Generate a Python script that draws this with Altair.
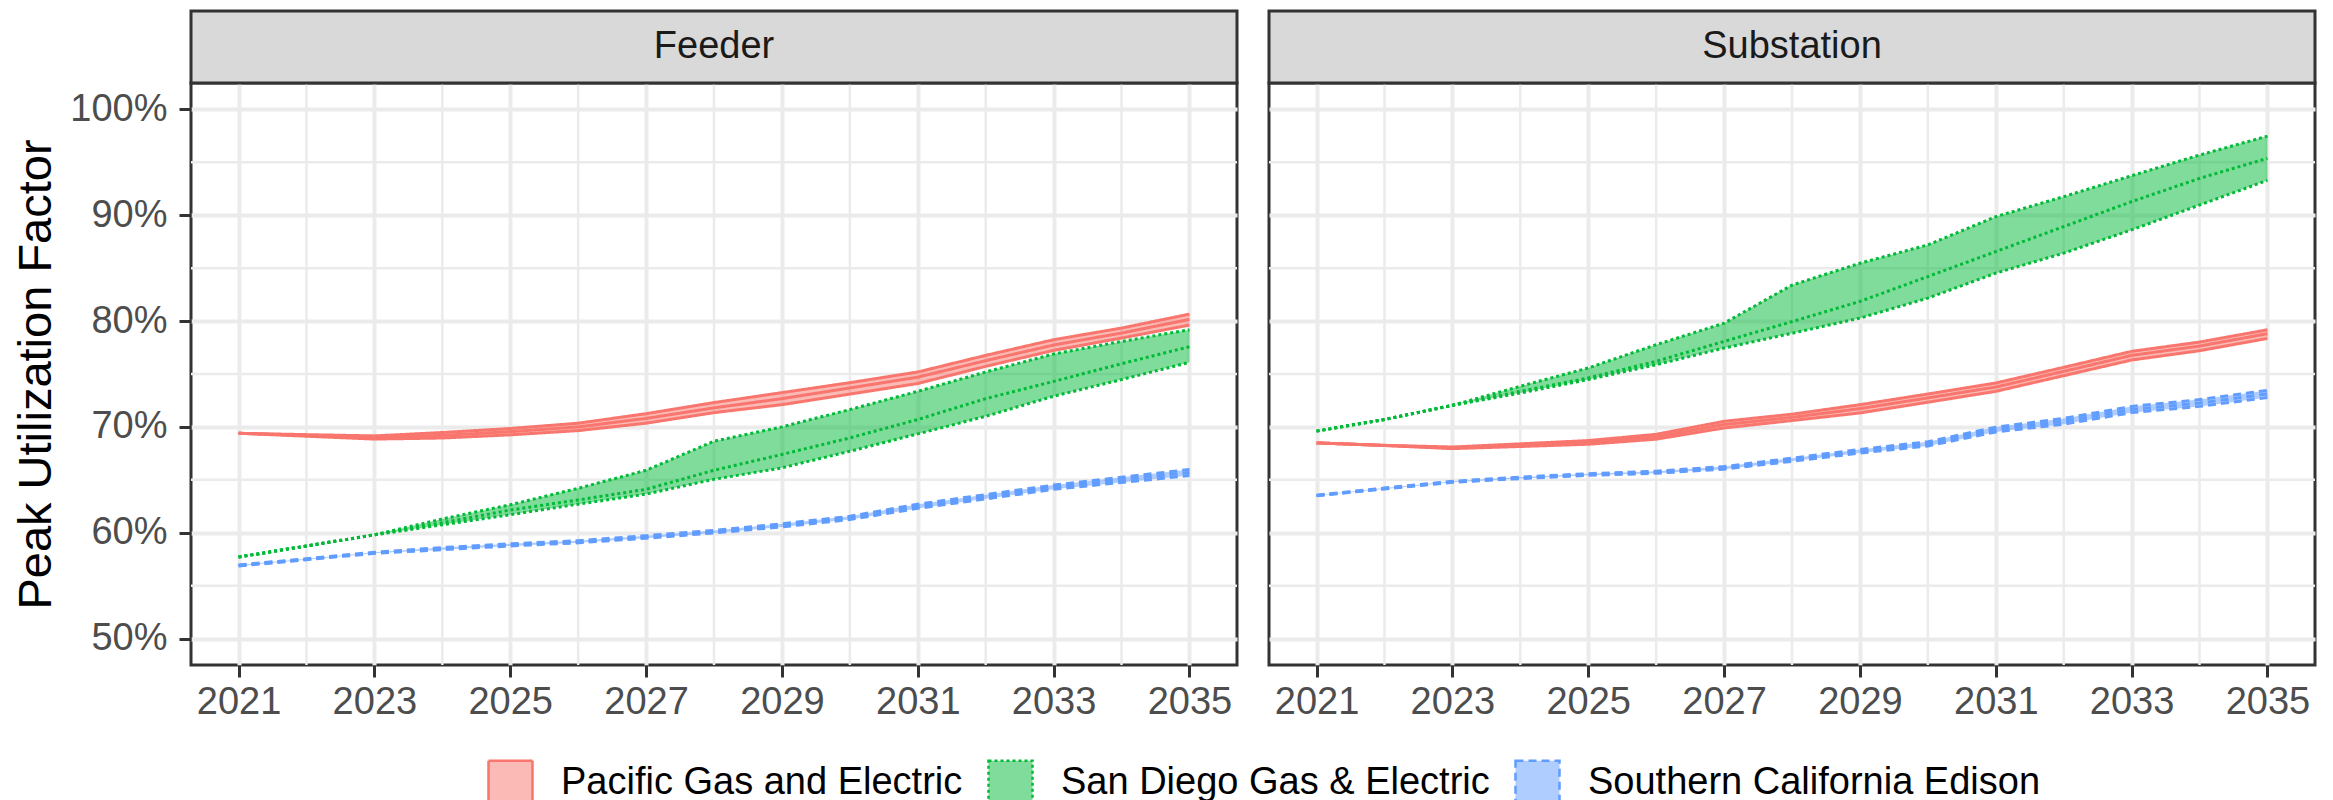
import altair as alt
import pandas as pd

# ---------------- data ----------------
years = [2021, 2022, 2023, 2024, 2025, 2026, 2027, 2028, 2029, 2030, 2031, 2032, 2033, 2034, 2035]
utilities = ["Pacific Gas and Electric", "San Diego Gas & Electric", "Southern California Edison"]
facets = ["Feeder", "Substation"]

major_years = [2021, 2023, 2025, 2027, 2029, 2031, 2033, 2035]
minor_years = [2022, 2024, 2026, 2028, 2030, 2032, 2034]
major_pct = [50, 60, 70, 80, 90, 100]
minor_pct = [55, 65, 75, 85, 95]

# Feeder
feeder_pge_hi = [69.4, 69.27, 69.15, 69.47, 69.85, 70.35, 71.25, 72.3, 73.24, 74.18, 75.19, 76.76, 78.24, 79.34, 80.66]
feeder_pge_mid = [69.4, 69.2, 69.0, 69.2, 69.55, 70.0, 70.8, 71.8, 72.67, 73.68, 74.7, 76.26, 77.74, 78.87, 80.16]
feeder_pge_lo = [69.4, 69.12, 68.85, 68.95, 69.25, 69.65, 70.35, 71.35, 72.1, 73.1, 74.1, 75.72, 77.23, 78.4, 79.62]

feeder_sdge_hi = [57.7, 58.75, 59.8, 61.3, 62.64, 64.2, 65.9, 68.65, 70.0, 71.64, 73.36, 75.19, 76.89, 78.08, 79.18]
feeder_sdge_mid = [57.7, 58.75, 59.8, 60.95, 62.14, 63.1, 64.1, 65.9, 67.4, 68.96, 70.7, 72.67, 74.3, 75.97, 77.58]
feeder_sdge_lo = [57.7, 58.75, 59.8, 60.75, 61.7, 62.7, 63.65, 65.05, 66.13, 67.7, 69.34, 71.0, 72.9, 74.47, 76.1]

feeder_sce_hi = [56.95, 57.55, 58.15, 58.6, 58.95, 59.25, 59.72, 60.22, 60.85, 61.55, 62.7, 63.6, 64.5, 65.25, 65.97]
feeder_sce_mid = [56.9, 57.5, 58.1, 58.5, 58.85, 59.15, 59.6, 60.1, 60.7, 61.4, 62.5, 63.4, 64.3, 65.0, 65.7]
feeder_sce_lo = [56.85, 57.45, 58.05, 58.4, 58.75, 59.05, 59.48, 59.98, 60.55, 61.25, 62.3, 63.2, 64.1, 64.75, 65.4]

# Substation
sub_pge_hi = [68.49, 68.26, 68.1, 68.4, 68.71, 69.3, 70.53, 71.2, 72.1, 73.11, 74.15, 75.63, 77.14, 78.02, 79.18]
sub_pge_mid = [68.49, 68.25, 68.02, 68.28, 68.55, 69.06, 70.22, 70.9, 71.73, 72.74, 73.77, 75.25, 76.76, 77.64, 78.81]
sub_pge_lo = [68.49, 68.24, 67.95, 68.15, 68.36, 68.84, 69.9, 70.6, 71.32, 72.33, 73.36, 74.84, 76.32, 77.2, 78.36]

sub_sdge_hi = [69.6, 70.7, 72.04, 73.84, 75.57, 77.77, 79.8, 83.4, 85.47, 87.2, 89.87, 91.76, 93.74, 95.69, 97.48]
sub_sdge_mid = [69.6, 70.7, 72.04, 73.36, 74.62, 76.2, 78.08, 79.95, 81.86, 84.21, 86.57, 88.93, 91.29, 93.49, 95.38]
sub_sdge_lo = [69.6, 70.7, 72.04, 73.2, 74.47, 75.88, 77.45, 78.85, 80.28, 82.17, 84.53, 86.42, 88.62, 90.97, 93.3]

sub_sce_hi = [63.55, 64.22, 64.86, 65.26, 65.58, 65.82, 66.25, 67.05, 67.87, 68.6, 69.98, 70.8, 71.93, 72.58, 73.45]
sub_sce_mid = [63.52, 64.18, 64.81, 65.19, 65.5, 65.72, 66.13, 66.9, 67.7, 68.4, 69.75, 70.53, 71.64, 72.26, 73.11]
sub_sce_lo = [63.49, 64.14, 64.76, 65.12, 65.42, 65.62, 66.01, 66.75, 67.53, 68.2, 69.52, 70.26, 71.35, 71.94, 72.77]

line_colors = ["#F8766D", "#00BA38", "#619CFF"]
fill_colors = ["rgba(248,118,109,0.5)", "rgba(0,186,56,0.5)", "rgba(97,156,255,0.5)"]
dash_styles = [[1, 0], [3, 3], [8, 5]]

series = {
    ("Feeder", utilities[0]): (feeder_pge_lo, feeder_pge_mid, feeder_pge_hi),
    ("Feeder", utilities[1]): (feeder_sdge_lo, feeder_sdge_mid, feeder_sdge_hi),
    ("Feeder", utilities[2]): (feeder_sce_lo, feeder_sce_mid, feeder_sce_hi),
    ("Substation", utilities[0]): (sub_pge_lo, sub_pge_mid, sub_pge_hi),
    ("Substation", utilities[1]): (sub_sdge_lo, sub_sdge_mid, sub_sdge_hi),
    ("Substation", utilities[2]): (sub_sce_lo, sub_sce_mid, sub_sce_hi),
}

band_rows, line_rows = [], []
for (fac, util), (lo, mid, hi) in series.items():
    for i, yr in enumerate(years):
        band_rows.append({"facet": fac, "utility": util, "year": yr, "lo": lo[i], "hi": hi[i]})
        for bname, arr in (("lo", lo), ("mid", mid), ("hi", hi)):
            line_rows.append({"facet": fac, "utility": util, "year": yr, "bound": bname, "value": arr[i]})
df_band = pd.DataFrame(band_rows)
df_lines = pd.DataFrame(line_rows)

# ---------------- chart ----------------
W, H, STRIP = 1046, 582, 72
FONT = "Liberation Sans"
FS = 38

fill_scale = alt.Scale(domain=utilities, range=fill_colors)
stroke_scale = alt.Scale(domain=utilities, range=line_colors)
dash_scale = alt.Scale(domain=utilities, range=dash_styles)
xs = alt.Scale(domain=[2020.3, 2035.7], nice=False, zero=False)
ys = alt.Scale(domain=[47.5, 102.5], nice=False, zero=False)


def panel(name, first):
    band = df_band[df_band.facet == name]
    lines = df_lines[df_lines.facet == name]
    xaxis = alt.Axis(values=major_years, format="d", title=None, grid=True,
                     gridColor="#EBEBEB", gridWidth=4, domain=False,
                     tickColor="#333333", tickWidth=3, tickSize=12,
                     labelFontSize=FS, labelColor="#4D4D4D", labelPadding=6,
                     labelFlush=False)
    if first:
        yaxis = alt.Axis(values=major_pct, labelExpr="datum.value + '%'",
                         title="Peak Utilization Factor", grid=True,
                         gridColor="#EBEBEB", gridWidth=4, domain=False,
                         tickColor="#333333", tickWidth=3, tickSize=12,
                         labelFontSize=FS, labelColor="#4D4D4D", labelPadding=12,
                         titleFontSize=47, titleFontWeight="normal",
                         titleColor="black", titlePadding=9)
    else:
        yaxis = alt.Axis(values=major_pct, labels=False, ticks=False, title=None,
                         grid=True, gridColor="#EBEBEB", gridWidth=4, domain=False)

    vgrid = alt.Chart(pd.DataFrame({"year": minor_years})).mark_rule(
        color="#EBEBEB", strokeWidth=2.5).encode(
        x=alt.X("year:Q", scale=xs, axis=xaxis))
    hgrid = alt.Chart(pd.DataFrame({"pct": minor_pct})).mark_rule(
        color="#EBEBEB", strokeWidth=2.5).encode(
        y=alt.Y("pct:Q", scale=ys, axis=yaxis))
    area = alt.Chart(band).mark_area(opacity=1).encode(
        x=alt.X("year:Q", scale=xs, axis=xaxis),
        y=alt.Y("lo:Q", scale=ys, axis=yaxis),
        y2="hi:Q",
        fill=alt.Fill("utility:N", scale=fill_scale, title=None),
    )
    line = alt.Chart(lines).mark_line(strokeWidth=3).encode(
        x=alt.X("year:Q", scale=xs, axis=xaxis),
        y=alt.Y("value:Q", scale=ys, axis=yaxis),
        detail="bound:N",
        stroke=alt.Stroke("utility:N", scale=stroke_scale, title=None),
        strokeDash=alt.StrokeDash("utility:N", scale=dash_scale, title=None),
    )
    lab = pd.DataFrame({"label": [name]})
    strip_rect = alt.Chart(lab).mark_rect(fill="#D9D9D9", stroke="#333333", strokeWidth=3).encode(
        x=alt.value(0), x2=alt.value(W), y=alt.value(-STRIP), y2=alt.value(0))
    strip_text = alt.Chart(lab).mark_text(fontSize=FS, color="#1A1A1A", font=FONT).encode(
        text="label:N", x=alt.value(W / 2), y=alt.value(-STRIP / 2))
    return alt.layer(vgrid, hgrid, area, line, strip_rect, strip_text).properties(width=W, height=H)


chart = alt.hconcat(panel("Feeder", True), panel("Substation", False), spacing=26).properties(
    padding={"left": 3, "top": 0, "right": 0, "bottom": 0},
    background="white",
).configure(font=FONT).configure_view(
    stroke="#333333", strokeWidth=3
).configure_axis(
    labelFont=FONT, titleFont=FONT
).configure_legend(
    orient="none", legendX=296, legendY=676, direction="horizontal",
    symbolType="square", symbolSize=1936, symbolStrokeWidth=2.5,
    labelFontSize=FS, labelColor="black", labelFont=FONT, labelOffset=27,
    labelLimit=0, columnPadding=20, padding=0,
)

chart.save("out.html", embed_options={"renderer": "svg", "actions": False})
